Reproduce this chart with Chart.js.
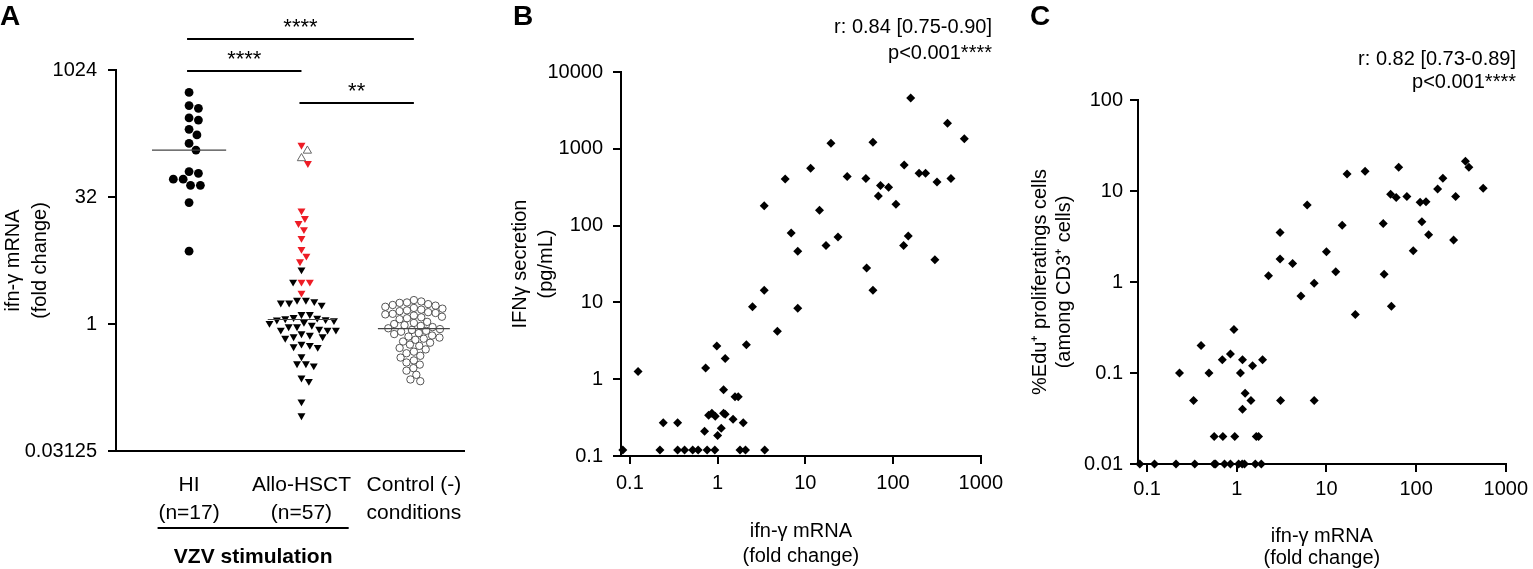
<!DOCTYPE html>
<html><head><meta charset="utf-8">
<script src="https://cdn.jsdelivr.net/npm/chart.js@4.4.1/dist/chart.umd.min.js"></script>
<style>
html,body{margin:0;padding:0;background:#fff;width:1533px;height:569px;overflow:hidden;}
canvas{position:absolute;top:0;}
</style></head><body>
<canvas id="cA" width="475" height="569" style="left:0px"></canvas>
<canvas id="cB" width="530" height="569" style="left:480px"></canvas>
<canvas id="cC" width="523" height="569" style="left:1010px"></canvas>
<script>
// ---------- Panel A data ----------
const groupLabels = [['HI','(n=17)'],['Allo-HSCT','(n=57)'],['Control (-)','conditions']];
const hiValues = [556, 388, 360, 277, 261, 203, 174, 138, 115, 64, 61, 52, 52, 44, 44, 27.5, 7.3];
const alloRed = [132, 80, 22, 17.9, 15.6, 13.2, 10.4, 7.7, 6.4, 5.5, 3.15, 3.15, 2.33];
const alloOpen = [113, 92];
const alloBlack = [4.4, 3.15, 1.92, 1.92, 1.85, 1.78, 1.78, 1.68, 1.30, 1.30, 1.20, 1.18, 1.16, 1.13, 1.12, 1.10,
  1.05, 1.02, 0.97, 0.93, 0.93, 0.87, 0.85, 0.85, 0.85, 0.77, 0.74, 0.71, 0.71, 0.68, 0.58, 0.56, 0.54, 0.53,
  0.41, 0.34, 0.34, 0.32, 0.23, 0.21, 0.12, 0.082];
const controlValues = [1.92, 1.85, 1.80, 1.78, 1.72, 1.68, 1.65, 1.60, 1.55, 1.52,
  1.48, 1.45, 1.42, 1.38, 1.35, 1.32, 1.30, 1.26, 1.22, 1.20, 1.17, 1.14,
  1.06, 1.03, 1.00, 0.97, 0.95, 0.92, 0.89, 0.87, 0.85, 0.83, 0.81,
  0.78, 0.76, 0.73, 0.71, 0.69, 0.67, 0.65,
  0.62, 0.60, 0.57, 0.55, 0.52, 0.50,
  0.47, 0.45, 0.42, 0.40, 0.37,
  0.35, 0.33, 0.30, 0.28,
  0.25, 0.22, 0.21];
const yTicksA = [0.03125, 1, 32, 1024];
const sigLabels = ['****', '****', '**'];

// ---------- Panel B data ----------
const bMrna = [159, 418, 650, 19.6, 59, 11.5, 5.9, 30, 49, 134, 198, 235, 317, 457, 72, 89, 68, 108, 3.4, 14.5,
  6.9, 23.6, 149, 17.2, 132, 8.2, 300, 50, 59, 3.4, 2.5, 8.2, 4.8, 0.98, 2.13, 1.22, 0.73, 0.124, 1.17, 1.58,
  1.72, 0.79, 0.86, 0.94, 1.17, 1.22, 1.50, 1.96, 0.24, 0.35, 1.10, 0.71, 1.0,
  0.083, 0.22, 0.35, 0.42, 0.52, 0.60, 0.76, 0.93, 1.80, 2.08, 3.44];
const bIfng = [4570, 2150, 1350, 1180, 1220, 560, 405, 437, 410, 613, 480, 480, 370, 410, 333, 315, 243, 189, 181, 159,
  80, 71, 73, 55, 55, 46.5, 36, 28, 14.4, 14.4, 8.8, 8.4, 4.2, 2.7, 2.8, 1.86, 1.40, 1.26, 0.73, 0.59,
  0.59, 0.34, 0.36, 0.33, 0.36, 0.35, 0.30, 0.27, 0.27, 0.27, 0.23, 0.21, 0.185,
  0.12, 0.12, 0.12, 0.12, 0.12, 0.12, 0.12, 0.12, 0.12, 0.12, 0.12];
const xTicksLog = [0.1, 1, 10, 100, 1000];
const yTicksB = [0.1, 1, 10, 100, 1000, 10000];

// ---------- Panel C data ----------
const cMrna = [355, 388, 560, 199, 174, 276, 64, 27, 17, 52, 60, 79, 111, 129, 6.1, 116, 43, 15, 138, 262,
  3.04, 93, 10.0, 3.04, 4.2, 12.7, 44, 2.26, 7.3, 5.2, 53, 21, 0.93, 0.40, 0.85, 0.69, 1.16, 1.50, 1.94, 0.23,
  0.49, 1.10, 1.24, 0.33, 1.44, 3.08, 7.3, 1.16, 0.56, 0.70, 0.95, 1.65, 1.75,
  0.083, 0.121, 0.21, 0.34, 0.56, 0.58, 0.73, 0.85, 1.05, 1.15, 1.22, 1.61, 1.88];
const cEdu = [21.2, 18.2, 10.7, 13.8, 10.5, 8.7, 18.2, 16.5, 15.4, 9.2, 8.5, 8.7, 7.5, 7.6, 7.0, 4.6, 4.4, 4.2, 3.3, 2.9,
  3.5, 2.2, 2.15, 1.79, 1.6, 1.30, 1.22, 1.17, 0.97, 0.70, 0.54, 0.44, 0.30, 0.20, 0.162, 0.14, 0.14, 0.12, 0.14, 0.10,
  0.10, 0.10, 0.06, 0.05, 0.05, 0.05, 0.05, 0.04, 0.02, 0.02, 0.02, 0.02, 0.02,
  0.01, 0.01, 0.01, 0.01, 0.01, 0.01, 0.01, 0.01, 0.01, 0.01, 0.01, 0.01, 0.01];
const yTicksC = [0.01, 0.1, 1, 10, 100];

// ---------- helpers ----------
const FONT = "'Liberation Sans', Arial, Helvetica, sans-serif";
Chart.defaults.font.family = FONT;
Chart.defaults.font.size = 20;
Chart.defaults.color = '#000';

const PX_PER_LOG2 = 25.4;   // approx vertical px per doubling in panel A
const PX_PER_CAT = 114.2;   // approx px per category unit in panel A

// deterministic beeswarm: returns x offsets (category units) for values
function beeswarm(vals, diam){
  const idx = vals.map((v,i)=>i).sort((a,b)=>vals[b]-vals[a]);
  const placed = []; const off = new Array(vals.length).fill(0);
  for (const i of idx){
    const y = Math.log2(vals[i]) * PX_PER_LOG2;
    let chosen = 0;
    outer: for (let k=0; k<400; k++){
      const cands = k===0 ? [0] : [k*0.5, -k*0.5];
      for (const c of cands){
        let ok = true;
        for (const p of placed){ const dx=p.x-c, dy=p.y-y; if (dx*dx+dy*dy < diam*diam){ ok=false; break; } }
        if (ok){ chosen = c; break outer; }
      }
    }
    placed.push({x:chosen, y:y}); off[i] = chosen / PX_PER_CAT;
  }
  return off;
}
function median(a){ const s=[...a].sort((x,y)=>x-y); const n=s.length; return n%2 ? s[(n-1)/2] : Math.sqrt(s[n/2-1]*s[n/2]); }
function groupPts(cat, vals, offs){ return vals.map((v,i)=>({x:cat+offs[i], y:v})); }
function medLine(cat, vals, half){ const m=median(vals); return [{x:cat-half,y:m},{x:cat+half,y:m}]; }

const hiOff = beeswarm(hiValues, 9.6);
const alloAll = alloRed.concat(alloOpen, alloBlack);
const alloOffAll = beeswarm(alloAll, 8.2);
const redOff = alloOffAll.slice(0, alloRed.length);
const openOff = alloOffAll.slice(alloRed.length, alloRed.length+alloOpen.length);
const blackOff = alloOffAll.slice(alloRed.length+alloOpen.length);
const ctrlOff = beeswarm(controlValues, 7.3);

const axisLine = {display:true, color:'#000', width:2};
const tickGrid = {display:true, drawOnChartArea:false, drawTicks:true, tickLength:8, color:'#000', lineWidth:2};
const baseOpts = {responsive:false, animation:false, events:[], devicePixelRatio:1,
  plugins:{legend:{display:false}, tooltip:{enabled:false}}};

// ---------- Panel A ----------
const annotA = {id:'annotA', afterDraw(chart){
  const ctx = chart.ctx, xs = chart.scales.x;
  ctx.save();
  ctx.fillStyle = '#000'; ctx.strokeStyle = '#000';
  ctx.font = 'bold 28px ' + FONT; ctx.textAlign = 'left'; ctx.textBaseline = 'alphabetic';
  ctx.fillText('A', 0, 25);
  const br = [[1,3,39],[1,2,71],[2,3,103]];
  ctx.lineWidth = 2; ctx.font = '22px ' + FONT; ctx.textAlign = 'center';
  br.forEach((b,i)=>{
    const x1 = xs.getPixelForValue(b[0]) - 2, x2 = xs.getPixelForValue(b[1]);
    ctx.beginPath(); ctx.moveTo(x1, b[2]); ctx.lineTo(x2, b[2]); ctx.stroke();
    ctx.fillText(sigLabels[i], (x1+x2)/2, b[2]-5);
  });
  const v1 = xs.getPixelForValue(0.72), v2 = xs.getPixelForValue(2.42);
  ctx.beginPath(); ctx.moveTo(v1, 528); ctx.lineTo(v2, 528); ctx.stroke();
  ctx.font = 'bold 21px ' + FONT;
  ctx.fillText('VZV stimulation', (v1+v2)/2, 563);
  ctx.restore();
}};

new Chart(document.getElementById('cA'), {
  type:'scatter',
  data:{datasets:[
    {type:'line', data:medLine(1, hiValues, 0.33), borderColor:'#444', borderWidth:1.2, pointRadius:0, order:0, clip:false},
    {type:'line', data:medLine(2, alloAll, 0.30), borderColor:'#444', borderWidth:1.2, pointRadius:0, order:0, clip:false},
    {type:'line', data:medLine(3, controlValues, 0.32), borderColor:'#444', borderWidth:1.2, pointRadius:0, order:0, clip:false},
    {data:groupPts(1, hiValues, hiOff), pointStyle:'circle', pointRadius:4.4, backgroundColor:'#000', borderColor:'#000', borderWidth:0, order:1, clip:false},
    {data:groupPts(2, alloBlack, blackOff), pointStyle:'triangle', rotation:180, pointRadius:4.6, backgroundColor:'#000', borderColor:'#000', borderWidth:0, order:1, clip:false},
    {data:groupPts(2, alloRed, redOff), pointStyle:'triangle', rotation:180, pointRadius:4.6, backgroundColor:'#ee1c25', borderColor:'#ee1c25', borderWidth:0, order:1, clip:false},
    {data:groupPts(2, alloOpen, openOff), pointStyle:'triangle', rotation:0, pointRadius:4.8, backgroundColor:'#fff', borderColor:'#666', borderWidth:1, order:1, clip:false},
    {data:groupPts(3, controlValues, ctrlOff), pointStyle:'circle', pointRadius:3.7, backgroundColor:'rgba(255,255,255,0)', borderColor:'#555', borderWidth:1, order:1, clip:false}
  ]},
  options:Object.assign({}, baseOpts, {
    layout:{padding:{top:70, right:5, bottom:0, left:0}},
    scales:{
      x:{type:'linear', min:0.35, max:3.45,
         afterBuildTicks:s=>{ s.ticks = [1,2,3].map(v=>({value:v})); },
         ticks:{autoSkip:false, maxRotation:0, padding:13, font:{size:21, lineHeight:1.3}, callback:v=>groupLabels[v-1]},
         grid:{display:false}, border:axisLine,
         afterFit:s=>{ s.height = 118; }},
      y:{type:'logarithmic', min:0.03125, max:1024,
         afterBuildTicks:s=>{ s.ticks = yTicksA.map(v=>({value:v})); },
         ticks:{autoSkip:false, padding:11, callback:v=>String(v)},
         grid:tickGrid, border:axisLine,
         title:{display:true, text:['ifn-γ mRNA','(fold change)'], font:{size:20, lineHeight:1.35}, padding:{top:0, bottom:0}},
         afterFit:s=>{ s.width = 116; }}
    }
  }),
  plugins:[annotA]
});

// ---------- Panels B and C ----------
function textPlugin(letter, letterX, letterY, rText, rightX, rY, pY){
  return {id:'txt'+letter, afterDraw(chart){
    const ctx = chart.ctx; ctx.save(); ctx.fillStyle = '#000';
    ctx.font = 'bold 28px ' + FONT; ctx.textAlign = 'left'; ctx.textBaseline = 'alphabetic';
    ctx.fillText(letter, letterX, letterY);
    ctx.font = '20px ' + FONT; ctx.textAlign = 'right';
    ctx.fillText(rText, rightX, rY);
    ctx.fillText('p<0.001****', rightX, pY);
    ctx.restore();
  }};
}

function scatterChart(id, xs, ys, yTicks, ymin, ymax, o){
  return new Chart(document.getElementById(id), {
    type:'scatter',
    data:{datasets:[{data:xs.map((x,i)=>({x:x, y:ys[i]})), pointStyle:'rectRot', pointRadius:4.5,
      backgroundColor:'#000', borderColor:'#000', borderWidth:0, clip:false}]},
    options:Object.assign({}, baseOpts, {
      layout:{padding:{top:o.top, right:o.right, bottom:0, left:0}},
      scales:{
        x:{type:'logarithmic', min:0.0792, max:1000,
           afterBuildTicks:s=>{ s.ticks = xTicksLog.map(v=>({value:v})); },
           ticks:{autoSkip:false, maxRotation:0, padding:o.xPad, callback:v=>String(v)},
           grid:tickGrid, border:axisLine,
           title:{display:true, text:['ifn-γ mRNA','(fold change)'], font:{size:20, lineHeight:o.xTitleLH}, padding:{top:0, bottom:0}},
           afterFit:s=>{ s.height = o.xH; }},
        y:{type:'logarithmic', min:ymin, max:ymax,
           afterBuildTicks:s=>{ s.ticks = yTicks.map(v=>({value:v})); },
           ticks:{autoSkip:false, padding:o.yPad, callback:v=>String(v)},
           grid:tickGrid, border:axisLine,
           title:{display:true, text:o.yTitle, font:{size:20, lineHeight:o.yTitleLH}, padding:{top:o.yTitlePad, bottom:0}},
           afterFit:s=>{ s.width = o.yW; }}
      }
    }),
    plugins:[o.plugin]
  });
}

scatterChart('cB', bMrna, bIfng, yTicksB, 0.1, 10000, {
  top:72, right:24, xH:113, yW:141, xPad:7, yPad:10, xTitleLH:1.25, yTitleLH:1.3, yTitlePad:27,
  yTitle:['IFNγ secretion','(pg/mL)'],
  plugin:textPlugin('B', 33, 25, 'r: 0.84 [0.75-0.90]', 512, 33, 59)
});

scatterChart('cC', cMrna, cEdu, yTicksC, 0.01, 100, {
  top:100, right:24, xH:105, yW:128, xPad:5, yPad:7, xTitleLH:1.1, yTitleLH:1.2, yTitlePad:18,
  yTitle:['%Edu⁺ proliferatings cells','(among CD3⁺ cells)'],
  plugin:textPlugin('C', 20, 25, 'r: 0.82 [0.73-0.89]', 506, 65, 88)
});
</script>
</body></html>
